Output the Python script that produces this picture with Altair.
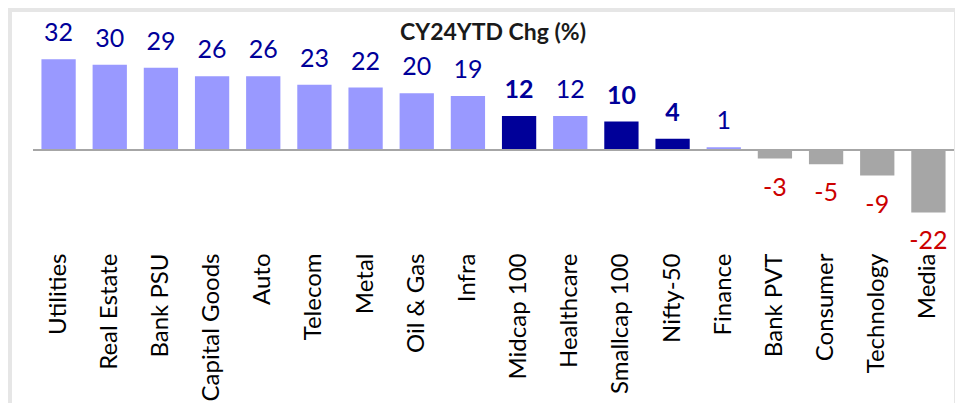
import altair as alt
import pandas as pd

categories = ["Utilities", "Real Estate", "Bank PSU", "Capital Goods", "Auto", "Telecom",
              "Metal", "Oil & Gas", "Infra", "Midcap 100", "Healthcare", "Smallcap 100",
              "Nifty-50", "Finance", "Bank PVT", "Consumer", "Technology", "Media"]
values = [32, 30, 29, 26, 26, 23, 22, 20, 19, 12, 12, 10, 4, 1, -3, -5, -9, -22]
kinds = ["sector", "sector", "sector", "sector", "sector", "sector", "sector", "sector",
         "sector", "index", "sector", "index", "index", "sector", "neg", "neg", "neg", "neg"]
title_text = "CY24YTD Chg (%)"

df = pd.DataFrame({"cat": categories, "val": values, "kind": kinds})
df["lbl"] = df["val"].astype(str)
df["zero"] = 0
tdf = pd.DataFrame({"t": [title_text], "zero": [0]})

W, H = 921, 233
FONT = "Lato"

x = alt.X("cat:N", sort=categories, title=None,
          scale=alt.Scale(paddingInner=0.33, paddingOuter=0.165),
          axis=alt.Axis(labelAngle=-90, labelFontSize=24, labelFont=FONT, labelColor="#000000",
                        domain=False, ticks=False, labelPadding=8, zindex=2))
yscale = alt.Scale(domain=[-33.45, 48.6], nice=False, zero=False)
y = alt.Y("val:Q", scale=yscale, axis=None)

frame = alt.Chart(tdf).mark_rect(fill="white").encode(
    x=alt.value(-21), x2=alt.value(W), y=alt.value(0), y2=alt.value(H + 158))

bars = alt.Chart(df).mark_bar().encode(
    x=x, y=y, y2="zero:Q",
    color=alt.Color("kind:N", scale=alt.Scale(domain=["sector", "index", "neg"],
                                              range=["#9999ff", "#000099", "#a6a6a6"]), legend=None))

base_rule = alt.Chart(tdf).mark_rule(color="#a6a6a6", strokeWidth=2).encode(
    y=alt.Y("zero:Q", scale=yscale, axis=None), x=alt.value(0), x2=alt.value(W))

pos_sector = alt.Chart(df).transform_filter("datum.kind == 'sector'").mark_text(
    font=FONT, fontSize=25, color="#000099", baseline="alphabetic", dy=-18).encode(
    x=alt.X("cat:N", sort=categories), y=y, text="lbl:N")
pos_index = alt.Chart(df).transform_filter("datum.kind == 'index'").mark_text(
    font=FONT, fontSize=25, fontWeight="bold", color="#000099", baseline="alphabetic", dy=-18).encode(
    x=alt.X("cat:N", sort=categories), y=y, text="lbl:N")
neg = alt.Chart(df).transform_filter("datum.kind == 'neg'").mark_text(
    font=FONT, fontSize=25, color="#cc0000", baseline="top", dy=17).encode(
    x=alt.X("cat:N", sort=categories), y=y, text="lbl:N")

title = alt.Chart(tdf).mark_text(font=FONT, fontSize=23, fontWeight="bold", color="#1a1a1a",
                                 baseline="middle", align="center").encode(
    x=alt.value(460), y=alt.value(21), text="t:N")

chart = alt.layer(frame, bars, base_rule, pos_sector, pos_index, neg, title).properties(
    width=W, height=H, background="#e6e6e6",
    padding={"left": 4, "top": 4, "right": 0, "bottom": 0}
).configure_view(stroke=None)

chart.save("out.html", embed_options={"renderer": "svg", "actions": False})
